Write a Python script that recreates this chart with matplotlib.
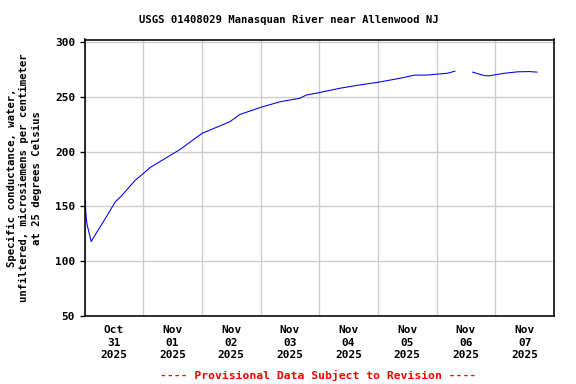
import numpy as np
import pandas as pd
import matplotlib
matplotlib.use("Agg")
import matplotlib.pyplot as plt

times = [
    "2025-10-31 00:20", "2025-10-31 00:30", "2025-10-31 01:00", "2025-10-31 02:45",
    "2025-10-31 05:00", "2025-10-31 09:15", "2025-10-31 12:30", "2025-10-31 15:15",
    "2025-10-31 20:45", "2025-11-01 00:00", "2025-11-01 02:45", "2025-11-01 15:00",
    "2025-11-02 00:00", "2025-11-02 11:30", "2025-11-02 15:30", "2025-11-03 00:00",
    "2025-11-03 08:00", "2025-11-03 16:00", "2025-11-03 18:45", "2025-11-04 00:00",
    "2025-11-04 08:30", "2025-11-04 16:30", "2025-11-05 00:15", "2025-11-05 08:45",
    "2025-11-05 15:00", "2025-11-05 19:45", "2025-11-06 00:00", "2025-11-06 04:30",
    "2025-11-06 07:30", "2025-11-06 11:00", "2025-11-06 14:45", "2025-11-06 19:30",
    "2025-11-06 21:30", "2025-11-07 00:30", "2025-11-07 03:45", "2025-11-07 09:15",
    "2025-11-07 14:00", "2025-11-07 17:00",
]
conductance = [
    156, 145, 134, 118,
    126.4, 141.7, 154, 160,
    174, 180, 185.5, 202,
    216.7, 227.5, 234, 240.5,
    245.7, 248.8, 251.8, 254,
    258, 261, 263.5, 267,
    270, 270, 270.8, 271.7,
    273.6, np.nan, 272.7, 269.5,
    269.3, 270.5, 271.7, 273,
    273.2, 272.7,
]
tick_labels = ["Oct\n31\n2025", "Nov\n01\n2025", "Nov\n02\n2025", "Nov\n03\n2025",
               "Nov\n04\n2025", "Nov\n05\n2025", "Nov\n06\n2025", "Nov\n07\n2025"]
yticks = [50, 100, 150, 200, 250, 300]

t = pd.to_datetime(times)
fig = plt.figure(figsize=(6, 4), dpi=96)
ax = fig.add_axes([84.5/576, 1-316/384, (554-84.5)/576, (316-39.5)/384])

ax.plot(t, conductance, color="#0000ff", lw=0.8)

x0 = pd.Timestamp("2025-10-31")
x1 = pd.Timestamp("2025-11-08")
ax.set_xlim(x0, x1)
ax.set_ylim(50, 302.5)

mono = "DejaVu Sans Mono"
midnights = pd.date_range(x0, x1, freq="D")
noons = midnights[:-1] + pd.Timedelta(hours=12)
ax.set_xticks(midnights)
ax.set_xticklabels([""] * len(midnights))
ax.set_xticks(noons, minor=True)
ax.set_xticklabels(tick_labels, minor=True, fontfamily=mono, fontweight="bold",
                   fontsize=8.3, linespacing=1.3)
ax.tick_params(axis="x", which="both", length=0, pad=7)
ax.set_yticks(yticks)
ax.set_yticklabels([str(v) for v in yticks], fontfamily=mono, fontweight="bold", fontsize=8.3)
ax.tick_params(axis="y", length=4, width=1, pad=3)

ax.grid(True, which="major", color="#cccccc", lw=1)
ax.set_axisbelow(True)
for s in ax.spines.values():
    s.set_linewidth(1.2)
    s.set_color("black")

ax.set_ylabel("Specific conductance, water,\nunfiltered, microsiemens per centimeter\nat 25 degrees Celsius",
              fontfamily=mono, fontweight="bold", fontsize=8, linespacing=1.3, labelpad=10)
fig.text(289/576, 1-20/384, "USGS 01408029 Manasquan River near Allenwood NJ",
         ha="center", va="center", fontfamily=mono, fontweight="bold", fontsize=8)
fig.text(318/576, 1-375/384, "---- Provisional Data Subject to Revision ----",
         ha="center", va="center", fontfamily=mono, fontweight="bold", fontsize=8.5, color="red")

fig.savefig("out.png", dpi=96)
